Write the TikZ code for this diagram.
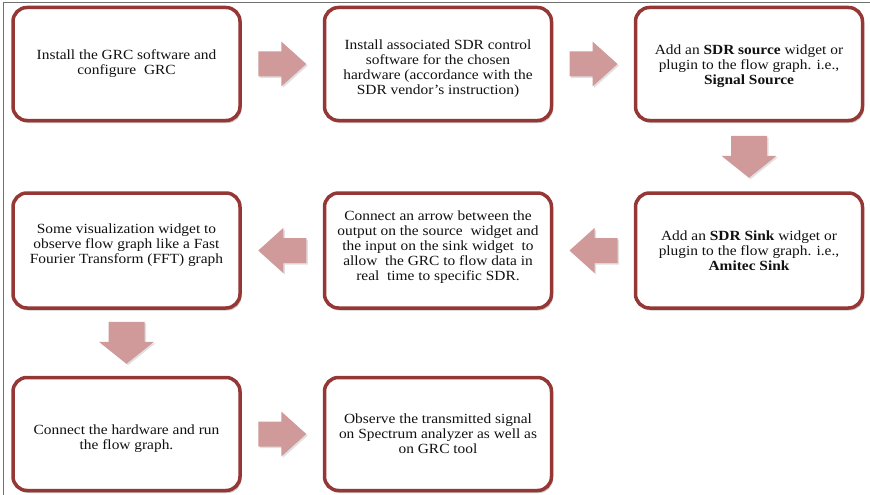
\documentclass[tikz,border=0pt]{standalone}
\usepackage{fontspec}
\setmainfont{Liberation Serif}[FakeStretch=1.1]
\usetikzlibrary{shadows,calc}
\definecolor{boxred}{HTML}{953735}
\definecolor{arrowpink}{HTML}{D09A9A}
\definecolor{framegray}{HTML}{707070}
\definecolor{textdark}{HTML}{111111}
\newcommand{\pushdown}[1]{\rule{0pt}{#1}}
\tikzset{
  stepbox/.style={draw=boxred, line width=3.5pt, rounded corners=14pt, fill=white,
    align=center, font=\fontsize{14}{15}\selectfont, text=textdark, inner sep=4pt,
    minimum width=227pt, minimum height=113pt,
    drop shadow={shadow xshift=1.5pt, shadow yshift=-2.5pt, opacity=0.3, fill=black!70}},
  arrowfill/.style={fill=arrowpink, drop shadow={shadow xshift=1.5pt, shadow yshift=-1.5pt, opacity=0.2, fill=black!60}},
  pics/rarrow/.style={code={\path[arrowfill] (-24,-12.5) -- (-1,-12.5) -- (-1,-22.5) -- (24,0) -- (-1,22.5) -- (-1,12.5) -- (-24,12.5) -- cycle;}},
  pics/larrow/.style={code={\path[arrowfill] (24,-12.5) -- (1,-12.5) -- (1,-22.5) -- (-24,0) -- (1,22.5) -- (1,12.5) -- (24,12.5) -- cycle;}},
  pics/darrow/.style={code={\path[arrowfill] (-18,-21) -- (18,-21) -- (18,-1) -- (27.5,-1) -- (0,21) -- (-27.5,-1) -- (-18,-1) -- cycle;}},
}
\begin{document}
\begin{tikzpicture}[x=1pt,y=-1pt]
\useasboundingbox (0,0) rectangle (870,495);
\draw[framegray, line width=1pt] (3,495) -- (3,3) -- (870,3);

\node[stepbox] (b1) at (126.5,64) {Install the GRC software and\\configure\ \ GRC};
\node[stepbox] (b2) at (438,64) {\pushdown{18pt}Install associated SDR control\\software for the chosen\\hardware (accordance with the\\SDR vendor's instruction)};
\node[stepbox] (b3) at (749,64) {\pushdown{14pt}Add an \textbf{SDR source} widget or\\plugin to the flow graph. i.e.,\\\textbf{Signal Source}};
\node[stepbox, minimum height=115pt] (b4) at (749,250.5) {Add an \textbf{SDR Sink} widget or\\plugin to the flow graph. i.e.,\\\textbf{Amitec Sink}};
\node[stepbox, minimum height=115pt] (b5) at (438,250.5) {Connect an arrow between the\\output on the source\ \ widget and\\the input on the sink widget\ \ to\\allow\ \ the GRC to flow data in\\real\ \ time to specific SDR.\\[-5pt]};
\node[stepbox, minimum height=115pt] (b6) at (126.5,250.5) {Some visualization widget to\\observe flow graph like a Fast\\Fourier Transform (FFT) graph\\[-1pt]};
\node[stepbox] (b7) at (126.5,434) {\pushdown{20pt}Connect the hardware and run\\the flow graph.};
\node[stepbox] (b8) at (438,434) {Observe the transmitted signal\\on Spectrum analyzer as well as\\on GRC tool};

\coordinate (a12) at ($(b1.east)!0.5!(b2.west)$);
\coordinate (a23) at ($(b2.east)!0.5!(b3.west)$);
\coordinate (a34) at ($(b3.south)!0.5!(b4.north)$);
\coordinate (a45) at ($(b4.west)!0.5!(b5.east)$);
\coordinate (a56) at ($(b5.west)!0.5!(b6.east)$);
\coordinate (a67) at ($(b6.south)!0.5!(b7.north)$);
\coordinate (a78) at ($(b7.east)!0.5!(b8.west)$);

\pic at (a12) {rarrow};
\pic at (a23) {rarrow};
\pic at (a34) {darrow};
\pic at (a45) {larrow};
\pic at (a56) {larrow};
\pic at (a67) {darrow};
\pic at (a78) {rarrow};
\end{tikzpicture}
\end{document}
